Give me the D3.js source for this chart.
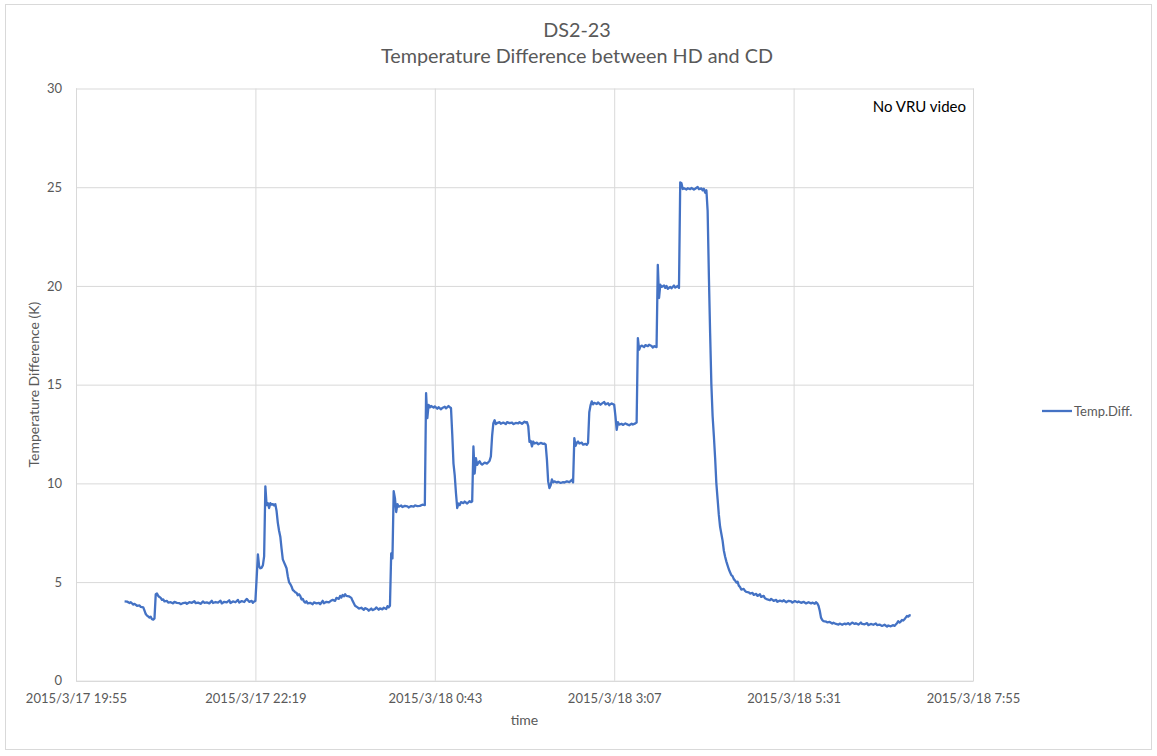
<!DOCTYPE html>
<html>
<head>
<meta charset="utf-8">
<script src="https://cdn.jsdelivr.net/npm/d3@7/dist/d3.min.js"></script>
<style>
  html, body { margin: 0; padding: 0; background: #fff; }
  svg { display: block; font-family: Lato, "Open Sans", sans-serif; }
</style>
</head>
<body>
<div id="chart"></div>
<script>
// readings: [minutes after 2015/3/17 19:55, temperature difference in K]
const readings = [
  [39,4.02],[41,4.01],[43,3.94],[44,3.98],[46,3.86],[47,3.90],[49,3.80],[51,3.82],[52,3.74],[54,3.72],
  [55,3.55],[56,3.38],[57,3.30],[58,3.26],[59,3.20],[60,3.24],[61,3.12],[62,3.10],[63,3.16],[64,4.38],
  [65,4.42],[66,4.30],[67,4.24],[68,4.20],[69,4.10],[70,4.12],[71,4.02],[73,4.05],[74,3.96],[76,3.98],
  [78,3.92],[79,4.00],[81,3.95],[83,3.93],[84,3.88],[86,3.94],[88,3.96],[89,3.90],[91,3.98],[93,3.95],
  [95,4.03],[96,3.93],[98,3.96],[100,3.90],[102,4.02],[103,3.95],[105,3.97],[107,3.92],[109,4.05],[110,3.94],
  [112,3.99],[114,3.96],[116,4.06],[117,3.92],[119,4.00],[121,3.97],[123,4.08],[124,3.94],[126,4.02],[128,3.98],
  [130,4.10],[131,3.96],[133,4.04],[135,3.99],[137,4.15],[139,4.00],[141,4.05],[142,3.95],[143,4.02],[144,4.05],
  [145,5.20],[146,6.40],[147,5.80],[148,5.70],[149,5.72],[150,5.85],[151,6.30],[152,9.85],[153,8.90],[154,9.00],
  [155,8.75],[156,9.00],[157,8.92],[158,8.95],[159,8.88],[160,8.95],[161,8.60],[162,8.00],[163,7.60],[164,7.30],
  [165,6.70],[166,6.15],[167,6.00],[168,5.85],[169,5.70],[170,5.30],[171,5.00],[172,4.90],[173,4.78],[174,4.60],
  [175,4.55],[176,4.48],[177,4.46],[178,4.33],[179,4.38],[180,4.30],[181,4.12],[182,4.15],[183,4.02],[184,3.96],
  [185,4.03],[186,3.92],[188,3.95],[190,3.88],[191,3.97],[193,3.92],[195,3.95],[196,3.88],[198,4.05],[199,3.93],
  [201,4.00],[203,3.97],[205,4.07],[206,4.10],[208,4.05],[209,4.20],[211,4.15],[212,4.30],[213,4.22],[214,4.35],
  [215,4.28],[216,4.38],[217,4.30],[219,4.28],[221,4.20],[222,4.05],[224,3.80],[226,3.72],[227,3.66],[229,3.70],
  [231,3.60],[232,3.68],[234,3.62],[235,3.55],[237,3.66],[238,3.58],[240,3.64],[241,3.72],[243,3.60],[244,3.67],
  [246,3.62],[247,3.70],[249,3.64],[250,3.78],[251,3.72],[252,3.80],[253,6.45],[254,6.20],[255,9.60],[256,9.25],
  [257,8.55],[258,8.95],[259,8.82],[261,8.88],[262,8.80],[264,8.86],[266,8.84],[267,8.78],[269,8.85],[271,8.82],
  [272,8.88],[274,8.85],[276,8.86],[278,8.92],[280,8.90],[281,14.57],[282,13.30],[283,13.98],[284,13.85],[285,13.92],
  [287,13.84],[288,13.90],[290,13.78],[291,13.86],[293,13.75],[294,13.82],[296,13.88],[297,13.80],[299,13.92],[300,13.86],
  [301,13.82],[302,12.50],[303,11.00],[304,10.40],[305,9.50],[306,8.75],[307,8.98],[308,8.90],[309,9.05],[311,9.00],
  [312,9.08],[314,8.98],[316,9.10],[317,9.05],[318,9.08],[319,11.87],[320,10.50],[321,11.28],[322,10.94],[323,11.05],
  [324,11.12],[325,11.00],[326,10.95],[328,11.05],[330,11.00],[332,11.15],[333,11.36],[334,12.40],[335,13.05],[336,13.20],
  [337,13.00],[338,13.05],[340,13.10],[341,13.02],[343,13.08],[345,13.00],[346,13.10],[348,13.05],[350,13.08],[351,13.00],
  [353,13.06],[355,13.04],[356,13.10],[358,13.02],[360,13.12],[361,13.08],[362,13.10],[363,12.90],[364,12.10],[365,12.15],
  [366,11.87],[367,12.12],[368,12.02],[370,12.06],[371,11.98],[373,12.05],[375,12.00],[376,12.02],[377,11.96],[378,11.20],
  [379,10.10],[380,9.76],[381,9.90],[382,10.20],[383,10.05],[384,10.10],[386,10.04],[387,10.08],[389,10.02],[391,10.06],
  [392,10.04],[394,10.10],[396,10.06],[397,10.12],[398,10.18],[399,10.05],[400,12.29],[401,11.90],[402,12.05],[403,12.12],
  [404,12.02],[406,12.06],[407,11.96],[409,12.00],[410,11.95],[411,12.05],[412,13.60],[413,13.95],[414,14.15],[415,14.00],
  [416,14.08],[418,14.02],[419,14.10],[421,13.98],[422,14.04],[424,14.12],[425,14.00],[427,14.06],[428,13.96],[430,14.05],
  [432,13.98],[433,13.40],[434,12.71],[435,13.10],[436,12.98],[438,13.02],[439,12.96],[441,13.04],[442,13.00],[444,12.94],
  [446,13.02],[447,12.98],[449,13.04],[450,13.08],[451,17.36],[452,16.77],[453,16.93],[454,16.98],[456,16.90],[457,17.00],
  [459,16.95],[460,17.02],[462,16.96],[463,16.88],[464,16.95],[466,16.90],[467,21.07],[468,19.39],[469,20.06],[470,19.95],
  [472,20.02],[473,19.90],[474,20.00],[475,19.85],[477,19.95],[478,19.88],[480,20.02],[481,19.92],[483,20.00],[484,19.90],
  [485,25.25],[486,25.20],[487,24.91],[488,24.95],[490,24.88],[491,24.95],[493,24.90],[494,24.96],[496,24.88],[497,24.92],
  [499,25.01],[500,24.90],[502,24.94],[503,24.84],[504,24.92],[505,24.72],[506,24.85],[507,23.80],[508,20.50],[509,17.60],
  [510,15.00],[511,13.40],[512,12.40],[513,11.30],[514,10.00],[515,9.20],[516,8.40],[517,7.80],[518,7.45],[519,7.10],
  [520,6.60],[521,6.30],[522,6.05],[523,5.85],[524,5.65],[525,5.50],[526,5.35],[527,5.30],[528,5.15],[529,5.08],
  [530,4.98],[531,5.02],[532,4.82],[533,4.75],[534,4.62],[536,4.65],[537,4.55],[538,4.50],[540,4.48],[541,4.42],
  [543,4.45],[544,4.35],[546,4.40],[547,4.30],[549,4.38],[550,4.25],[552,4.30],[553,4.18],[555,4.12],[557,4.08],
  [558,4.15],[560,4.05],[562,4.10],[563,4.00],[565,4.06],[567,4.02],[568,4.08],[570,3.98],[572,4.05],[574,4.02],
  [575,3.96],[577,4.04],[579,3.98],[580,4.02],[582,3.95],[584,4.00],[586,3.92],[588,3.98],[590,3.92],[591,3.96],
  [593,3.90],[594,3.98],[595,3.92],[596,3.80],[597,3.55],[598,3.20],[599,3.08],[600,3.02],[602,3.00],[603,2.96],
  [605,2.98],[607,2.90],[608,2.94],[610,2.88],[612,2.85],[613,2.90],[615,2.84],[617,2.90],[618,2.86],[620,2.92],
  [621,2.85],[623,2.95],[625,2.88],[626,2.92],[628,2.85],[630,2.95],[631,2.88],[633,2.86],[635,2.92],[636,2.82],
  [638,2.88],[640,2.84],[642,2.90],[643,2.82],[645,2.85],[647,2.78],[649,2.84],[651,2.75],[652,2.80],[654,2.76],
  [656,2.82],[657,2.78],[658,2.85],[659,2.92],[660,3.02],[661,2.95],[662,3.00],[663,3.08],[664,3.05],[665,3.12],
  [666,3.20],[667,3.28],[668,3.25],[669,3.32],[670,3.30]
];

const startTime = new Date(2015, 2, 17, 19, 55);
const endTime = new Date(2015, 2, 18, 7, 55);
const xTickMinutes = [0, 144, 288, 432, 576, 720];
const yTicks = [0, 5, 10, 15, 20, 25, 30];
const titleLines = ['DS2-23', 'Temperature Difference between HD and CD'];
const seriesName = 'Temp.Diff.';
const note = 'No VRU video';

(function() {
  const width = 1157, height = 756;
  const plot = { left: 76, right: 973, top: 88.5, bottom: 680.8 };
  const gridColor = '#d9d9d9',
        textColor = '#595959',
        lineColor = '#4472c4';

  const toDate = m => d3.timeMinute.offset(startTime, m);
  const fmt = d3.timeFormat('%Y/%-m/%-d %-H:%M');

  const x = d3.scaleTime()
    .domain([startTime, endTime])
    .range([plot.left, plot.right]);
  const y = d3.scaleLinear()
    .domain([0, 30])
    .range([plot.bottom, plot.top]);

  const svg = d3.select('#chart').append('svg')
    .attr('width', width)
    .attr('height', height);

  // chart frame
  svg.append('rect')
    .attr('x', 5.5).attr('y', 4.5)
    .attr('width', 1146).attr('height', 745)
    .attr('fill', '#fff')
    .attr('stroke', gridColor);

  // title
  svg.append('text')
    .attr('x', 577).attr('y', 36.5)
    .attr('text-anchor', 'middle')
    .attr('fill', textColor)
    .style('font-size', '19.8px')
    .selectAll('tspan')
    .data(titleLines)
    .join('tspan')
    .attr('x', 577)
    .attr('dy', (d, i) => i ? 26.5 : 0)
    .text(d => d);

  // horizontal grid
  const yAxis = svg.append('g')
    .attr('transform', 'translate(' + plot.left + ',0)')
    .call(d3.axisLeft(y)
      .tickValues(yTicks)
      .tickSize(-(plot.right - plot.left))
      .tickPadding(14));
  yAxis.select('.domain').remove();
  yAxis.selectAll('.tick line')
    .attr('stroke', gridColor);
  yAxis.selectAll('.tick text')
    .attr('fill', textColor)
    .style('font-size', '13px')
    .style('font-family', 'Lato, sans-serif');

  // vertical grid and time labels
  const xAxis = svg.append('g')
    .attr('transform', 'translate(0,' + plot.bottom + ')')
    .call(d3.axisBottom(x)
      .tickValues(xTickMinutes.map(toDate))
      .tickFormat(fmt)
      .tickSize(-(plot.bottom - plot.top))
      .tickPadding(13));
  xAxis.select('.domain')
    .attr('stroke', gridColor);
  xAxis.selectAll('.tick line')
    .attr('stroke', gridColor);
  xAxis.selectAll('.tick text')
    .attr('fill', textColor)
    .style('font-size', '13px')
    .style('font-family', 'Lato, sans-serif');

  // axis titles
  svg.append('text')
    .attr('x', (plot.left + plot.right) / 2)
    .attr('y', 725)
    .attr('text-anchor', 'middle')
    .attr('fill', textColor)
    .style('font-size', '14px')
    .text('time');

  svg.append('text')
    .attr('transform', 'translate(39,' + ((plot.top + plot.bottom) / 2) + ') rotate(-90)')
    .attr('text-anchor', 'middle')
    .attr('fill', textColor)
    .style('font-size', '14px')
    .text('Temperature Difference (K)');

  // series
  const line = d3.line()
    .x(d => x(toDate(d[0])))
    .y(d => y(d[1]));

  svg.append('path')
    .datum(readings)
    .attr('fill', 'none')
    .attr('stroke', lineColor)
    .attr('stroke-width', 2.3)
    .attr('stroke-linejoin', 'round')
    .attr('d', line);

  // note in the plot
  svg.append('text')
    .attr('x', 966)
    .attr('y', 112)
    .attr('text-anchor', 'end')
    .attr('fill', '#000')
    .style('font-size', '15px')
    .text(note);

  // legend
  const legend = svg.append('g')
    .attr('transform', 'translate(1042,411)');
  legend.append('line')
    .attr('x1', 0).attr('x2', 30)
    .attr('stroke', lineColor)
    .attr('stroke-width', 2.3);
  legend.append('text')
    .attr('x', 32)
    .attr('y', 4.5)
    .attr('fill', textColor)
    .style('font-size', '13px')
    .text(seriesName);
})();
</script>
</body>
</html>
